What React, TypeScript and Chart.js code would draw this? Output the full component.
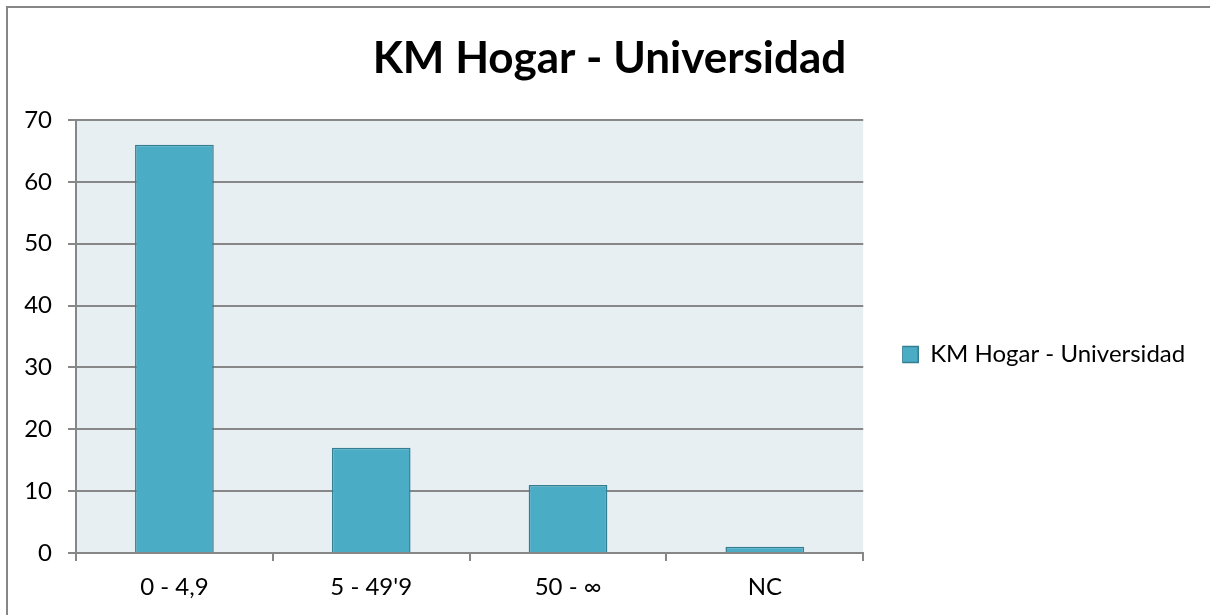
import React, { useEffect, useRef } from 'react';
import { Chart, registerables } from 'chart.js';

Chart.register(...registerables);

// ---- Data ----
const chartTitle = 'KM Hogar - Universidad';
const seriesName = 'KM Hogar - Universidad';
const categories = ['0 - 4,9', "5 - 49'9", '50 - ∞', 'NC'];
const values = [66, 17, 11, 1];
const yMin = 0;
const yMax = 70;
const yStep = 10;

const FONT = 'Lato, "Open Sans", sans-serif';
const GRID = '#878787';
const LEGEND_SIZE = 24;
const LEGEND_SHIFT = 39;
const LEGEND_BOX = 16;
const PLOT_RIGHT = 863;
const CANVAS_W = 1210;

const framePlugin = {
  id: 'frame',
  beforeDraw(chart: any) {
    const { ctx, chartArea } = chart;
    ctx.save();
    ctx.fillStyle = '#ffffff';
    ctx.fillRect(0, 0, chart.width, chart.height);
    ctx.strokeStyle = '#868686';
    ctx.lineWidth = 2;
    ctx.strokeRect(7, 7, chart.width + 20, chart.height + 20);
    ctx.fillStyle = '#E8EFF3';
    ctx.fillRect(
      chartArea.left,
      chartArea.top,
      chartArea.right - chartArea.left,
      chartArea.bottom - chartArea.top
    );
    ctx.restore();
  },
  afterLayout(chart: any) {
    const lg = chart.legend;
    if (lg) {
      lg.top += 47;
      lg.bottom += 47;
      lg.left += LEGEND_SHIFT;
      lg.right += LEGEND_SHIFT;
    }
    const t = chart.titleBlock;
    if (t) {
      t.left = 9;
      t.right = CANVAS_W;
      t.width = CANVAS_W - 9;
    }
  },
};

export default function App() {
  const ref = useRef<HTMLCanvasElement | null>(null);

  useEffect(() => {
    if (!ref.current) return;
    const mctx = ref.current.getContext('2d') as CanvasRenderingContext2D;
    mctx.save();
    mctx.font = `normal ${LEGEND_SIZE}px ${FONT}`;
    const textW = mctx.measureText(seriesName).width;
    mctx.restore();
    const legendW = LEGEND_BOX + LEGEND_SIZE / 2 + textW + 2;
    const padRight = Math.max(0, CANVAS_W - PLOT_RIGHT - legendW);

    const chart = new Chart(ref.current, {
      type: 'bar',
      data: {
        labels: categories,
        datasets: [
          {
            label: seriesName,
            data: values,
            backgroundColor: '#4BACC6',
            borderColor: '#357E92',
            borderWidth: 1.5,
            categoryPercentage: 1,
            barPercentage: 0.4,
          },
        ],
      },
      options: {
        responsive: false,
        animation: false,
        layout: { padding: { left: 9, right: padRight, top: 0, bottom: 0 } },
        plugins: {
          title: {
            display: true,
            text: chartTitle,
            color: '#000',
            font: { family: FONT, size: 44, weight: 'bold', lineHeight: 1 },
            padding: { top: 37, bottom: 39 },
          },
          legend: {
            position: 'right',
            labels: {
              color: '#000',
              font: { family: FONT, size: LEGEND_SIZE },
              boxWidth: LEGEND_BOX,
              boxHeight: LEGEND_BOX,
              padding: 0,
            },
          },
          tooltip: { enabled: false },
        },
        scales: {
          x: {
            type: 'category',
            offset: true,
            grid: {
              offset: true,
              drawOnChartArea: false,
              drawTicks: true,
              tickLength: 8,
              color: GRID,
              lineWidth: 2,
            },
            border: { display: true, color: GRID, width: 2 },
            ticks: {
              color: '#000',
              font: { family: FONT, size: 24 },
              padding: 12,
              maxRotation: 0,
              autoSkip: false,
            },
            afterFit: (s: any) => {
              s.height = 62;
            },
          },
          y: {
            min: yMin,
            max: yMax,
            ticks: {
              stepSize: yStep,
              color: '#000',
              font: { family: FONT, size: 24 },
              padding: 16,
            },
            grid: { color: GRID, lineWidth: 2, tickLength: 8 },
            border: { display: true, color: GRID, width: 2 },
            afterFit: (s: any) => {
              s.width = 67;
            },
          },
        },
      },
      plugins: [framePlugin],
    } as any);
    return () => chart.destroy();
  }, []);

  return (
    <div style={{ position: 'absolute', left: 0, top: 0, width: 1210, height: 615 }}>
      <canvas ref={ref} width={1210} height={615} style={{ display: 'block' }} />
    </div>
  );
}
